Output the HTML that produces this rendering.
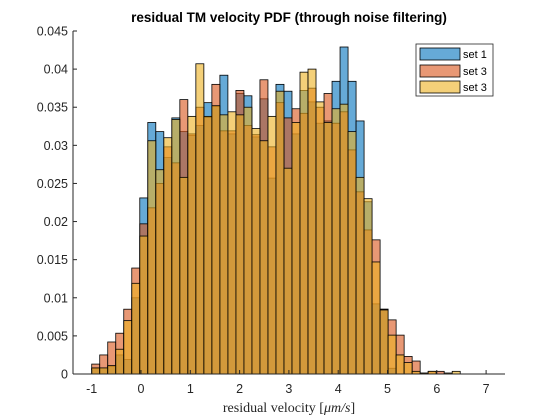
<!DOCTYPE html>
<html><head><meta charset="utf-8"><style>
body{margin:0;background:#fff;width:560px;height:420px;overflow:hidden}
svg{display:block;font-family:"Liberation Sans",sans-serif}
</style></head><body>
<svg id="c" width="560" height="420"></svg>
<script>
const binStart=-1.0, binWidth=0.1625;
const set1=[0.7,0.8,1.0,2.5,1.9,10.0,23.1,33.0,31.8,28.4,33.6,31.8,31.3,32.6,35.6,35.1,39.2,31.5,36.8,36.5,31.1,36.1,25.7,38.0,37.1,31.5,37.2,35.7,32.9,33.2,38.4,42.9,38.4,33.2,22.6,9.2,8.5,0.75,0,0,0,0,0,0,0,0];
const set2=[1.3,2.5,4.2,5.35,8.5,13.9,19.7,21.8,25.0,29.8,27.7,36.0,31.5,35.0,33.7,38.0,31.9,31.9,37.2,32.6,31.4,38.6,29.8,35.6,33.6,34.8,34.2,37.5,35.0,36.8,32.9,34.4,29.4,23.9,18.9,17.6,8.5,7.1,5.1,2.3,1.7,0.1,0.35,0.35,0,0];
const set3=[0.8,0.8,1.1,3.25,7.0,11.9,18.1,30.6,26.8,31.0,33.4,25.8,33.8,40.7,33.8,35.2,34.0,34.4,34.0,35.0,32.2,30.6,33.8,37.1,27.0,33.0,39.6,40.0,35.7,33.0,34.8,35.4,31.8,25.8,23.0,14.7,8.4,5.1,2.5,1.5,0.35,0.13,0.35,0,0.13,0.35];
const yTicks=[0,0.005,0.01,0.015,0.02,0.025,0.03,0.035,0.04,0.045];
const xTicks=[-1,0,1,2,3,4,5,6,7];
const L=73,R=505,T=31,B=374;
const xs=v=>91.7+(v+1)*49.3;
const ys=v=>B-(v/0.045)*(B-T);
const svg=document.getElementById('c');
const NS='http://www.w3.org/2000/svg';
function mk(t,a,p){const e=document.createElementNS(NS,t);for(const k in a)e.setAttribute(k,a[k]);(p||svg).appendChild(e);return e;}
const series=[[set1,'#0072BD','set-1'],[set2,'#D95319','set-2'],[set3,'#EDB120','set-3']];
series.forEach(([d,c,n])=>{
  const g=mk('g',{});
  
  
  d.forEach((v,i)=>{
    const val=v/1000; if(val<=0)return;
    const x0=xs(binStart+i*binWidth),x1=xs(binStart+(i+1)*binWidth);
    const r=mk('rect',{x:x0,y:ys(val),width:x1-x0,height:B-ys(val),fill:c,'fill-opacity':0.6,stroke:'#000','stroke-width':0.8},g);
    
    
  });
});
const ax=mk('g',{});


mk('line',{x1:L,y1:B,x2:R,y2:B,stroke:'#262626','stroke-width':1},ax);
mk('line',{x1:L,y1:T,x2:L,y2:B,stroke:'#262626','stroke-width':1},ax);
xTicks.forEach(t=>{
  const x=xs(t);
  mk('line',{x1:x,y1:B,x2:x,y2:B-4,stroke:'#262626'},ax);
  const tx=mk('text',{x:x,y:B+19,'text-anchor':'middle','font-size':12.5,fill:'#262626'},ax);
  tx.textContent=t;
  
  
});
yTicks.forEach(t=>{
  const y=ys(t);
  mk('line',{x1:L,y1:y,x2:L+4,y2:y,stroke:'#262626'},ax);
  const tx=mk('text',{x:L-5,y:y+4.5,'text-anchor':'end','font-size':12.5,fill:'#262626'},ax);
  tx.textContent=t;
  
  
});
</script>
<svg style="position:absolute;left:0;top:0" width="560" height="420">
<text x="289" y="22" text-anchor="middle" font-family="Liberation Sans,sans-serif" font-weight="bold" font-size="13.5" fill="#000">residual TM velocity PDF (through noise filtering)</text>
<text x="289" y="412" text-anchor="middle" font-family="Liberation Serif,serif" font-size="14" fill="#262626">residual velocity [<tspan font-style="italic">μm/s</tspan>]</text>
<g>
<rect x="416" y="44" width="77" height="52" fill="#fff" stroke="#262626" stroke-width="0.8"/>
<g><rect x="420" y="48" width="40" height="12" fill="#0072BD" fill-opacity="0.6" stroke="#000" stroke-width="0.8"/><text x="463" y="58" font-family="Liberation Sans,sans-serif" font-size="11" fill="#000">set 1</text></g>
<g><rect x="420" y="65" width="40" height="12" fill="#D95319" fill-opacity="0.6" stroke="#000" stroke-width="0.8"/><text x="463" y="75" font-family="Liberation Sans,sans-serif" font-size="11" fill="#000">set 3</text></g>
<g><rect x="420" y="81" width="40" height="12" fill="#EDB120" fill-opacity="0.6" stroke="#000" stroke-width="0.8"/><text x="463" y="91" font-family="Liberation Sans,sans-serif" font-size="11" fill="#000">set 3</text></g>
</g>
</svg>
</body></html>
